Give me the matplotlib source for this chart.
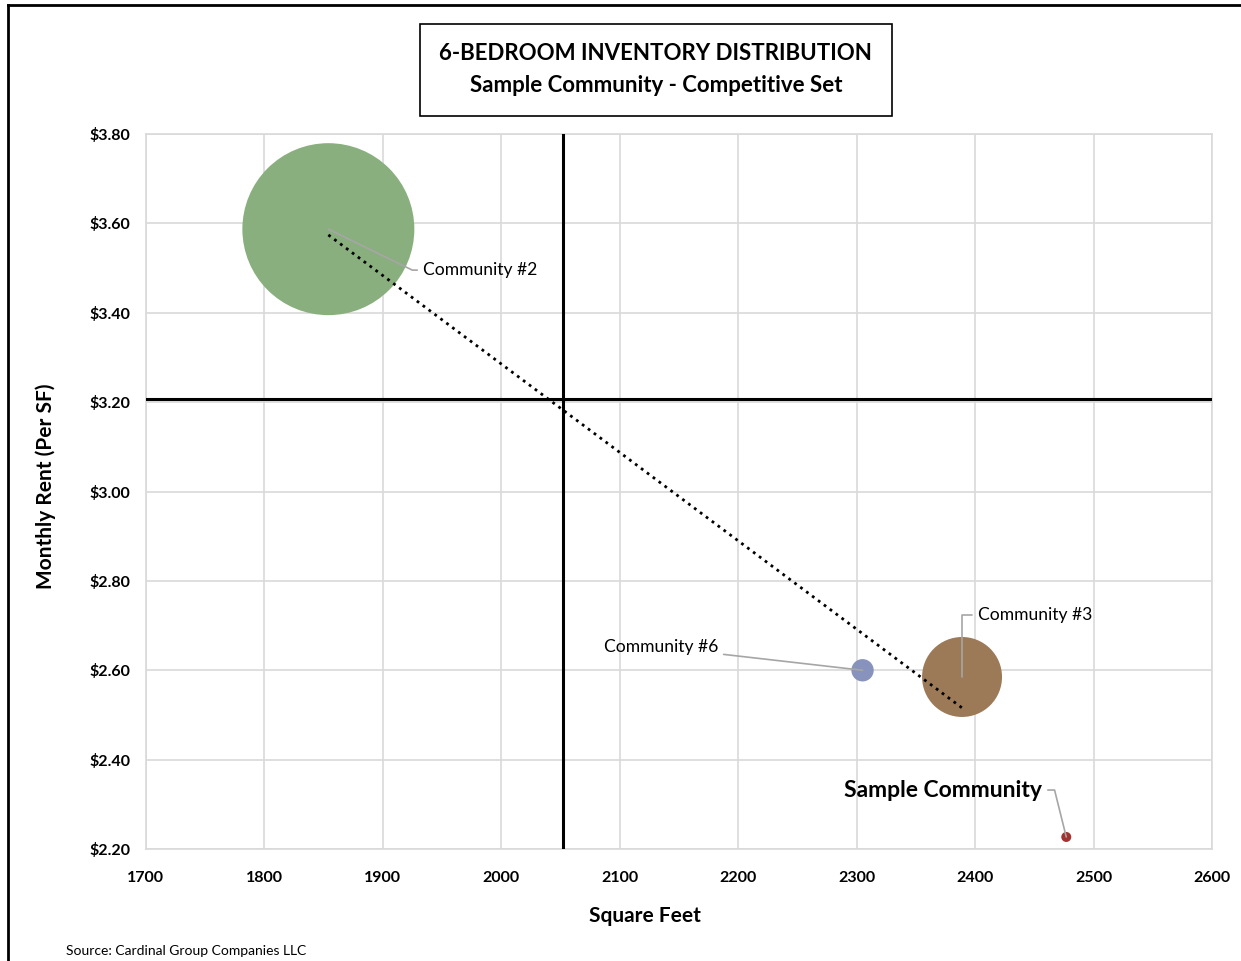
import numpy as np
import matplotlib.pyplot as plt
from matplotlib.lines import Line2D

# --- data ---
names = ['Community #2', 'Community #6', 'Community #3', 'Sample Community']
sq_feet = [1854, 2305, 2389, 2477]
rent_psf = [3.587, 2.60, 2.585, 2.227]
units = [296, 5, 64, 1]           # bubble size (inventory)
colors = ['#8AAF7E', '#8793BC', '#9C7A58', '#A33331']

avg_sq_feet = 2052                # vertical reference line
avg_rent = 3.207                  # horizontal reference line

x_ticks = list(range(1700, 2601, 100))
y_ticks = [2.20, 2.40, 2.60, 2.80, 3.00, 3.20, 3.40, 3.60, 3.80]

FONT = 'Lato'
SIZE_SCALE = 51.8                 # points^2 per unit

fig = plt.figure(figsize=(12.41, 9.61), dpi=100)
ax = fig.add_axes([0.1176, 0.1165, 0.859, 0.7441])

ax.scatter(sq_feet, rent_psf, s=[u * SIZE_SCALE for u in units], c=colors,
           linewidths=0, zorder=3)

# linear trend line over the competitors (Sample Community excluded)
comp_x = np.array(sq_feet[:3], dtype=float)
comp_y = np.array(rent_psf[:3])
slope, intercept = np.polyfit(comp_x, comp_y, 1)
tx = np.array([comp_x.min(), comp_x.max()])
ax.plot(tx, slope * tx + intercept, color='black', linestyle=':', linewidth=2, zorder=5)

ax.axvline(avg_sq_feet, color='black', linewidth=2.2, zorder=4)
ax.axhline(avg_rent, color='black', linewidth=2.2, zorder=4)

ax.set_xlim(1700, 2600)
ax.set_ylim(2.20, 3.80)
ax.set_xticks(x_ticks)
ax.set_yticks(y_ticks)
ax.set_xticklabels([str(v) for v in x_ticks], fontweight='bold', fontsize=11.5, family=FONT)
ax.set_yticklabels([f'${v:.2f}' for v in y_ticks], fontweight='bold', fontsize=11.5, family=FONT)
ax.tick_params(length=0)
ax.tick_params(axis='x', pad=15.5)
ax.tick_params(axis='y', pad=11)
ax.grid(True, color='#D9D9D9', linewidth=1.2, zorder=0)
ax.set_axisbelow(True)
for sp in ax.spines.values():
    sp.set_color('#D9D9D9')
    sp.set_linewidth(1.2)

ax.set_xlabel('Square Feet', fontweight='bold', fontsize=15, family=FONT)
ax.set_ylabel('Monthly Rent (Per SF)', fontweight='bold', fontsize=15, family=FONT)
ax.xaxis.set_label_coords(0.468, -0.079, transform=ax.transAxes)
ax.yaxis.set_label_coords(-0.084, 0.508, transform=ax.transAxes)

# data labels with leader lines
lead = dict(arrowstyle='-', color='#A6A6A6', linewidth=1.2, shrinkA=2, shrinkB=0)
label_cfg = [
    (( 68, -29.5), 'left',  'angle,angleA=180,angleB=154,rad=0', 'normal', 12.6),
    ((-104, 16.6), 'right', 'arc3,rad=0',                        'normal', 12.6),
    (( 11.5, 44.6), 'left', 'angle,angleA=180,angleB=90,rad=0',  'normal', 12.6),
    ((-17.3, 33.8), 'right', 'angle,angleA=0,angleB=104,rad=0',  'bold',   16.5),
]
for name, x, y, (off, ha, cs, fw, fs) in zip(names, sq_feet, rent_psf, label_cfg):
    ax.annotate(name, xy=(x, y), xytext=off, textcoords='offset points',
                ha=ha, va='center', fontsize=fs, fontweight=fw, family=FONT,
                arrowprops=dict(lead, connectionstyle=cs), zorder=6)

# title box
fig.text(0.5285, 0.9275, '6-BEDROOM INVENTORY DISTRIBUTION\nSample Community - Competitive Set',
         ha='center', va='center', fontsize=16, fontweight='bold', family=FONT,
         linespacing=1.65,
         bbox=dict(boxstyle='square,pad=0.88', facecolor='white', edgecolor='black', linewidth=1.2))

fig.text(0.053, 0.0105, 'Source: Cardinal Group Companies LLC', fontsize=10, family=FONT, va='center')

# outer frame (top and left edges)
fig.add_artist(Line2D([0.0065, 1.0], [0.9948, 0.9948], color='black', linewidth=2,
                      transform=fig.transFigure))
fig.add_artist(Line2D([0.0065, 0.0065], [0.0, 0.9948], color='black', linewidth=2,
                      transform=fig.transFigure))

fig.savefig('out.png', dpi=100)
